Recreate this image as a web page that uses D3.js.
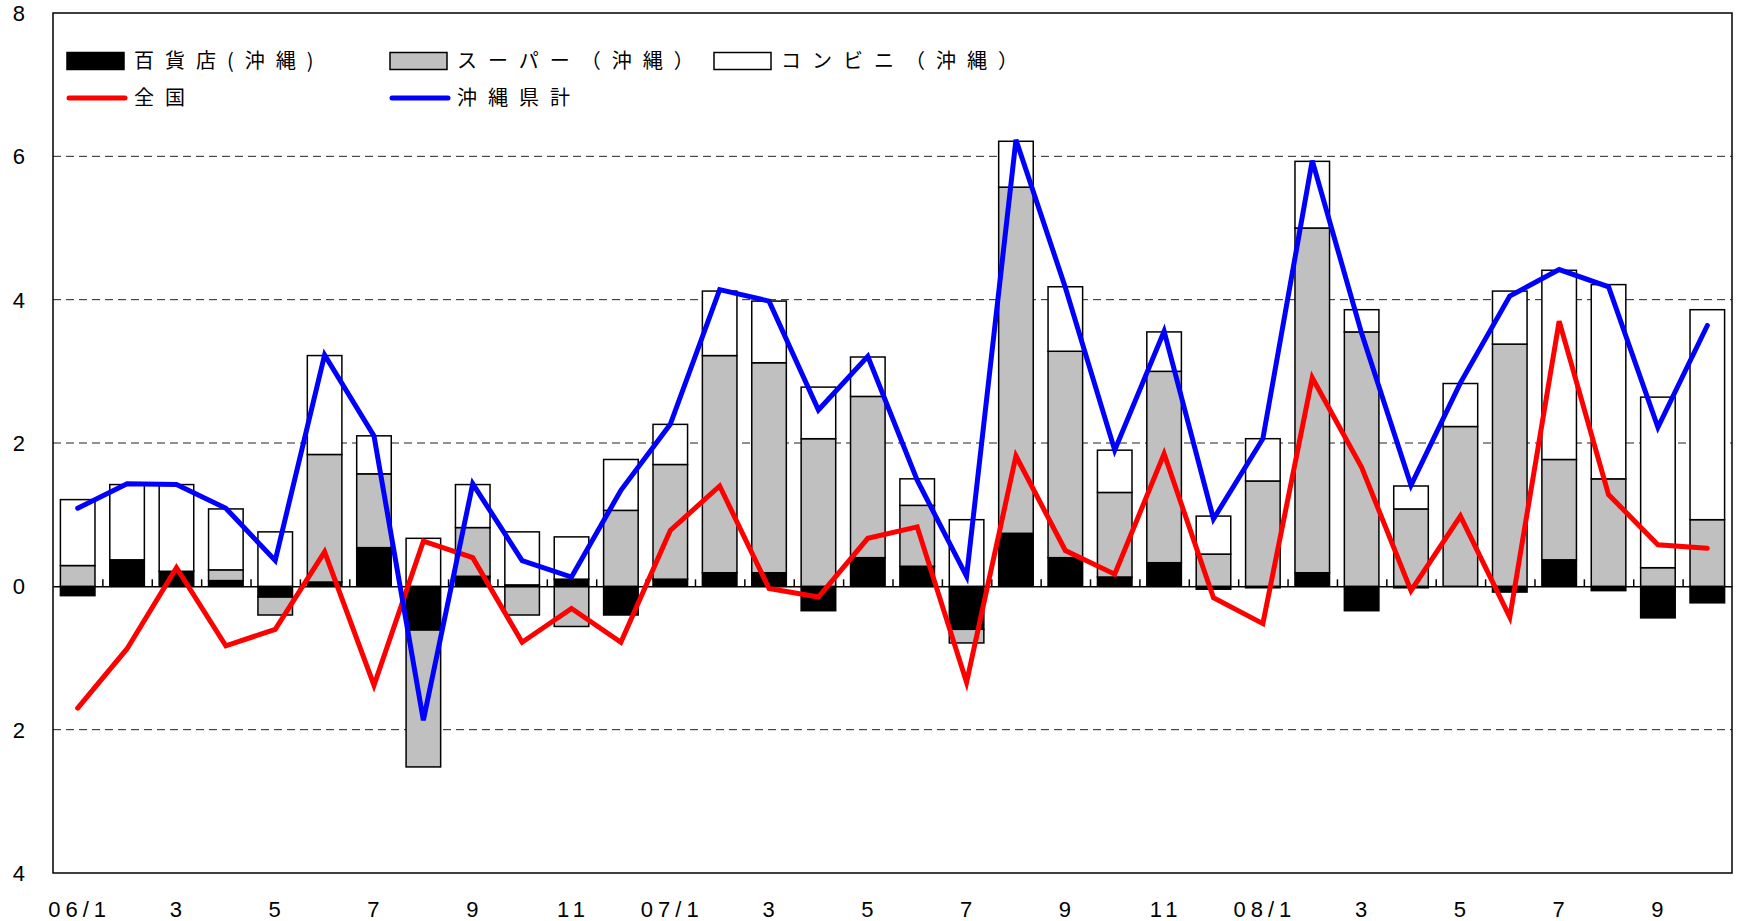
<!DOCTYPE html>
<html>
<head>
<meta charset="utf-8">
<script src="https://cdn.jsdelivr.net/npm/d3@7"></script>
<style>
  body { margin: 0; background: #fff; }
  text { fill: #000; }
</style>
</head>
<body>
<script>
// Months on the x axis (every other one gets a label)
var months = ['06/1', '2', '3', '4', '5', '6', '7', '8', '9', '10', '11', '12',
  '07/1', '2', '3', '4', '5', '6', '7', '8', '9', '10', '11', '12',
  '08/1', '2', '3', '4', '5', '6', '7', '8', '9', '10'];

// Stacked bars: contributions in Okinawa
var depart = [-0.13, 0.37, 0.21, 0.08, -0.15, 0.06, 0.54, -0.61, 0.14, 0.02, 0.10, -0.40,
  0.10, 0.19, 0.19, -0.34, 0.40, 0.28, -0.60, 0.74, 0.40, 0.13, 0.33, -0.04,
  -0.02, 0.19, -0.34, -0.02, 0.00, -0.08, 0.37, -0.06, -0.44, -0.23];
var superm = [0.29, 0.00, 0.00, 0.15, -0.25, 1.78, 1.03, -1.91, 0.68, -0.40, -0.56, 1.06,
  1.60, 3.03, 2.93, 2.06, 2.25, 0.85, -0.19, 4.83, 2.88, 1.18, 2.67, 0.45,
  1.47, 4.81, 3.55, 1.08, 2.23, 3.38, 1.40, 1.50, 0.26, 0.93];
var conveni = [0.92, 1.05, 1.21, 0.85, 0.76, 1.38, 0.53, 0.67, 0.60, 0.74, 0.59, 0.71,
  0.56, 0.90, 0.86, 0.72, 0.55, 0.37, 0.93, 0.64, 0.90, 0.59, 0.55, 0.53,
  0.59, 0.93, 0.31, 0.32, 0.60, 0.74, 2.64, 2.71, 2.38, 2.93];

// Lines
var zenkoku = [-1.70, -0.87, 0.26, -0.83, -0.60, 0.48, -1.38, 0.63, 0.40, -0.78, -0.31, -0.78,
  0.78, 1.40, -0.03, -0.15, 0.67, 0.83, -1.34, 1.82, 0.50, 0.17, 1.85, -0.16,
  -0.52, 2.91, 1.66, -0.06, 0.98, -0.43, 3.70, 1.28, 0.58, 0.53];
var okinawa = [1.09, 1.43, 1.42, 1.09, 0.36, 3.23, 2.10, -1.87, 1.43, 0.36, 0.13, 1.34,
  2.26, 4.14, 3.98, 2.46, 3.21, 1.48, 0.14, 6.23, 4.17, 1.90, 3.56, 0.94,
  2.06, 5.94, 3.53, 1.41, 2.84, 4.05, 4.42, 4.18, 2.22, 3.64];

// Y ticks (the picture shows no minus signs)
var yTicks = [-4, -2, 0, 2, 4, 6, 8];
var yTickLabels = ['4', '2', '0', '2', '4', '6', '8'];

var width = 1739,
  height = 921;
var plotLeft = 53, plotRight = 1732, plotTop = 13, plotBottom = 873;

var svg = d3.select('body')
  .append('svg')
  .attr('width', width)
  .attr('height', height);

var x = d3.scaleBand()
  .domain(d3.range(months.length))
  .range([plotLeft, plotRight])
  .paddingInner(0.3)
  .paddingOuter(0.15);

var y = d3.scaleLinear()
  .domain([-4, 8])
  .range([plotBottom, plotTop]);

// dashed grid lines
svg.append('g')
  .selectAll('line')
  .data(yTicks.filter(function(d) { return d !== 0 && d !== 8 && d !== -4; }))
  .enter()
  .append('line')
  .attr('x1', plotLeft)
  .attr('x2', plotRight)
  .attr('y1', function(d) { return y(d); })
  .attr('y2', function(d) { return y(d); })
  .attr('stroke', '#222')
  .attr('stroke-width', 1)
  .attr('stroke-dasharray', '8,5');

// stack the three shop types, negatives go downward
var rows = months.map(function(m, i) {
  return { dept: depart[i], sup: superm[i], conv: conveni[i] };
});
var stack = d3.stack()
  .keys(['dept', 'sup', 'conv'])
  .offset(d3.stackOffsetDiverging);
var fills = { dept: '#000', sup: '#c0c0c0', conv: '#fff' };

svg.append('g')
  .selectAll('g')
  .data(stack(rows))
  .enter()
  .append('g')
  .attr('fill', function(s) { return fills[s.key]; })
  .selectAll('rect')
  .data(function(s) { return s; })
  .enter()
  .append('rect')
  .attr('x', function(d, i) { return x(i); })
  .attr('width', x.bandwidth())
  .attr('y', function(d) { return y(Math.max(d[0], d[1])); })
  .attr('height', function(d) { return Math.abs(y(d[0]) - y(d[1])); })
  .attr('stroke', '#000')
  .attr('stroke-width', 1.5);

// zero line with small ticks between months
var zeroAxis = d3.axisBottom(d3.scaleLinear().domain([0, months.length]).range([plotLeft, plotRight]))
  .tickValues(d3.range(1, months.length))
  .tickSizeInner(-7)
  .tickSizeOuter(0)
  .tickFormat('');
var zg = svg.append('g')
  .attr('transform', 'translate(0,' + y(0) + ')')
  .call(zeroAxis);
zg.selectAll('path, line').attr('stroke', '#000').attr('stroke-width', 1.5);

// lines
var line = d3.line()
  .x(function(d, i) { return x(i) + x.bandwidth() / 2; })
  .y(function(d) { return y(d); });

svg.append('path')
  .datum(zenkoku)
  .attr('fill', 'none')
  .attr('stroke', '#ff0000')
  .attr('stroke-width', 5)
  .attr('stroke-linecap', 'round')
  .attr('d', line);

svg.append('path')
  .datum(okinawa)
  .attr('fill', 'none')
  .attr('stroke', '#0000ff')
  .attr('stroke-width', 5)
  .attr('stroke-linecap', 'round')
  .attr('d', line);

// frame
svg.append('rect')
  .attr('x', plotLeft)
  .attr('y', plotTop)
  .attr('width', plotRight - plotLeft)
  .attr('height', plotBottom - plotTop)
  .attr('fill', 'none')
  .attr('stroke', '#000')
  .attr('stroke-width', 1.5);

// y labels
svg.append('g')
  .selectAll('text')
  .data(yTicks)
  .enter()
  .append('text')
  .attr('x', 25)
  .attr('y', function(d) { return y(d) + 8; })
  .attr('text-anchor', 'end')
  .style('font-family', '"Liberation Sans", Arial, sans-serif')
  .style('font-size', '22px')
  .text(function(d, i) { return yTickLabels[i]; });

// x labels, every other month
svg.append('g')
  .selectAll('text')
  .data(d3.range(0, months.length, 2))
  .enter()
  .append('text')
  .attr('x', function(i) { return x(i) + x.bandwidth() / 2 + 2; })
  .attr('y', 917)
  .attr('text-anchor', 'middle')
  .style('font-family', '"Liberation Sans", Arial, sans-serif')
  .style('font-size', '22px')
  .style('letter-spacing', '5px')
  .text(function(i) { return months[i]; });

// legend
var legendItems = [
  { name: '百貨店(沖縄)', kind: 'box', fill: '#000', lx: 67, ly: 61 },
  { name: 'スーパー（沖縄）', kind: 'box', fill: '#c0c0c0', lx: 390, ly: 61 },
  { name: 'コンビニ（沖縄）', kind: 'box', fill: '#fff', lx: 714, ly: 61 },
  { name: '全国', kind: 'line', fill: '#ff0000', lx: 67, ly: 98 },
  { name: '沖縄県計', kind: 'line', fill: '#0000ff', lx: 390, ly: 98 }
];

var lg = svg.append('g')
  .selectAll('g')
  .data(legendItems)
  .enter()
  .append('g')
  .attr('transform', function(d) { return 'translate(' + d.lx + ',' + d.ly + ')'; });

lg.filter(function(d) { return d.kind === 'box'; })
  .append('rect')
  .attr('x', 0)
  .attr('y', -8.5)
  .attr('width', 57)
  .attr('height', 17)
  .attr('fill', function(d) { return d.fill; })
  .attr('stroke', '#000')
  .attr('stroke-width', 1.5);

lg.filter(function(d) { return d.kind === 'line'; })
  .append('line')
  .attr('x1', 2)
  .attr('x2', 58)
  .attr('y1', 0)
  .attr('y2', 0)
  .attr('stroke', function(d) { return d.fill; })
  .attr('stroke-width', 5)
  .attr('stroke-linecap', 'round');

lg.append('text')
  .attr('x', 67)
  .attr('y', 0)
  .attr('dy', '0.36em')
  .style('font-family', '"Noto Sans CJK JP", sans-serif')
  .style('font-size', '20px')
  .style('letter-spacing', '11px')
  .text(function(d) { return d.name; });
</script>
</body>
</html>
